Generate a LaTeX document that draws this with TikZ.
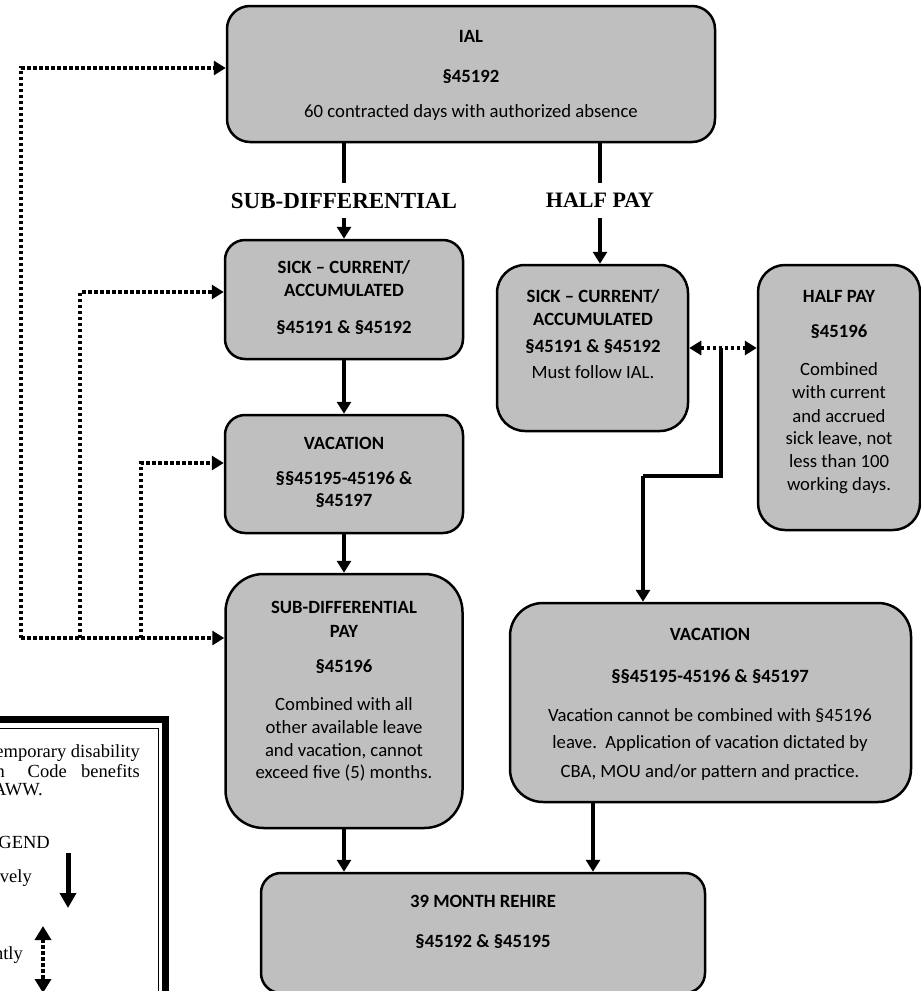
\documentclass[tikz,border=0pt]{standalone}
\usepackage{fontspec}
\setmainfont{Carlito}
\newfontfamily\tnr{Liberation Serif}
\usetikzlibrary{arrows.meta}
\definecolor{boxgray}{RGB}{191,191,191}
\begin{document}
\begin{tikzpicture}[x=1pt,y=-1pt,
  box/.style={draw=black, line width=2.5pt, fill=boxgray, inner sep=0pt},
  txt/.style={inner sep=0pt, anchor=base, font=\fontsize{18.7}{23}\selectfont},
  ttl/.style={inner sep=0pt, anchor=base, font=\fontsize{18.7}{23}\selectfont\bfseries},
  conn/.style={line width=4.5pt, -{Triangle[width=14pt,length=12pt]}},
  dotline/.style={line width=4.5pt, dash pattern=on 3.5pt off 2.5pt},
  dotconn/.style={dotline, -{Triangle[width=14pt,length=12pt]}},
  lbl/.style={font=\tnr\bfseries\fontsize{23}{26}\selectfont, fill=white, inner xsep=4pt, inner ysep=10pt},
  leg/.style={inner sep=0pt, anchor=base east, font=\tnr\fontsize{18.5}{20}\selectfont}
]
\useasboundingbox (0,0) rectangle (921,991);
\clip (0,0) rectangle (921,991);

% ---------- boxes ----------
\node[box, rounded corners=23pt, minimum width=488pt, minimum height=136pt] (ial) at (471,74) {};
\node[box, rounded corners=20pt, minimum width=238pt, minimum height=119pt] (sickL) at (344,299.5) {};
\node[box, rounded corners=20pt, minimum width=238pt, minimum height=118pt] (vacL) at (344,474) {};
\node[box, rounded corners=38pt, minimum width=237pt, minimum height=254pt] (subP) at (344,701) {};
\node[box, rounded corners=28pt, minimum width=191pt, minimum height=166pt] (sickR) at (592.5,348) {};
\node[box, rounded corners=27pt, minimum width=162pt, minimum height=265pt] (halfP) at (839,397.5) {};
\node[box, rounded corners=33pt, minimum width=401pt, minimum height=199pt] (vacR) at (710.5,702.5) {};
\node[box, rounded corners=20pt, minimum width=444pt, minimum height=120pt] (rehire) at (483,933) {};

% ---------- box texts ----------
\node[ttl] (t1) at (471,42) {IAL};
\node[ttl] (t2) at (471,82) {§45192};
\node[txt] (t3) at (471,117) {60 contracted days with authorized absence};

\node[ttl] (t4) at (344,273) {SICK – CURRENT/};
\node[ttl] (t5) at (344,296) {ACCUMULATED};
\node[ttl] (t6) at (344,333) {§45191 \& §45192};

\node[ttl] (t7) at (344,449) {VACATION};
\node[ttl] (t8) at (344,484) {§§45195-45196 \&};
\node[ttl] (t9) at (344,506) {§45197};

\node[ttl] (t10) at (344,613) {SUB-DIFFERENTIAL};
\node[ttl] (t11) at (344,637) {PAY};
\node[ttl] (t12) at (344,672) {§45196};
\node[txt] (t13) at (344,710) {Combined with all};
\node[txt] (t14) at (344,733) {other available leave};
\node[txt] (t15) at (344,756) {and vacation, cannot};
\node[txt] (t16) at (344,778) {exceed five (5) months.};

\node[ttl] (t17) at (593,302) {SICK – CURRENT/};
\node[ttl] (t18) at (593,325) {ACCUMULATED};
\node[ttl] (t19) at (593,352) {§45191 \& §45192};
\node[txt] (t20) at (593,378) {Must follow IAL.};

\node[ttl] (t21) at (839,302) {HALF PAY};
\node[ttl] (t22) at (839,337) {§45196};
\node[txt] (t23) at (839,375) {Combined};
\node[txt] (t24) at (839,398) {with current};
\node[txt] (t25) at (839,422) {and accrued};
\node[txt] (t26) at (839,444) {sick leave, not};
\node[txt] (t27) at (839,467) {less than 100};
\node[txt] (t28) at (839,490) {working days.};

\node[ttl] (t29) at (710,640) {VACATION};
\node[ttl] (t30) at (710,682) {§§45195-45196 \& §45197};
\node[txt] (t31) at (710,721) {Vacation cannot be combined with §45196};
\node[txt] (t32) at (710,748) {leave.\ \ Application of vacation dictated by};
\node[txt] (t33) at (710,777) {CBA, MOU and/or pattern and practice.};

\node[ttl] (t34) at (483,907) {39 MONTH REHIRE};
\node[ttl] (t35) at (483,947) {§45192 \& §45195};

% ---------- solid connectors ----------
\draw[conn] (ial.south -| sickL.north) -- node[lbl, pos=0.6] (lsub) {SUB-DIFFERENTIAL} (sickL.north);
\coordinate (hp) at ([xshift=7.5pt]sickR.north);
\draw[conn] (ial.south -| hp) -- node[lbl, font=\tnr\bfseries\fontsize{22}{26}\selectfont, pos=0.476] (lhalf) {HALF PAY} (hp);
\draw[conn] (sickL.south) -- (vacL.north);
\draw[conn] (vacL.south) -- (subP.north);
\draw[conn] (subP.south) -- (rehire.north -| subP.south);
\coordinate (vr) at ([xshift=-117.5pt]vacR.south);
\draw[conn] (vr) -- (rehire.north -| vr);

% ---------- dotted connectors ----------
\draw[dotline, {Triangle[width=14pt,length=12pt]}-{Triangle[width=14pt,length=12pt]}] (sickR.east) -- (halfP.west |- sickR.east);
\coordinate (j) at (721,348);
\coordinate (vtop) at ([xshift=-67.5pt]vacR.north);
\draw[line width=4.5pt] (j) -- (721,476) -- (vtop |- 0,476);
\draw[conn] (vtop |- 0,476) -- (vtop);

\coordinate (d1) at (21,638);
\coordinate (d2) at (80,638);
\coordinate (d3) at (141,638);
\draw[dotconn] (d1) -- (subP.west |- d1);
\draw[dotconn] (d1) |- ([yshift=6pt]ial.west);
\draw[dotconn] (d2) |- ([yshift=7.5pt]sickL.west);
\draw[dotconn] (d3) |- ([yshift=11pt]vacL.west);

% ---------- legend (cut off) ----------
\draw[line width=7pt] (-40,719) rectangle (165,1040);
\draw[line width=1.2pt] (-40,728.5) rectangle (158.5,1040);
\node[leg] (g1) at (140,757) {emporary disability};
\node[leg] (g2) at (5,777) {n};
\node[leg] (g3) at (67,777) {Code};
\node[leg] (g4) at (140,777) {benefits};
\node[leg] (g5) at (43,795) {AWW.};
\node[leg] (g6) at (50,848) {GEND};
\node[leg] (g7) at (32,882) {vely};
\node[leg] (g8) at (23,959) {ntly};
\coordinate (a1) at (68,853);
\coordinate (a2) at (68,908);
\draw[line width=5pt, -{Triangle[width=16pt,length=15pt]}] (a1) -- (a2);
\coordinate (b1) at (43,926);
\coordinate (b2) at (43,993);
\draw[dotline, {Triangle[width=16pt,length=14pt]}-{Triangle[width=16pt,length=14pt]}] (b1) -- (b2);
\end{tikzpicture}
\end{document}
